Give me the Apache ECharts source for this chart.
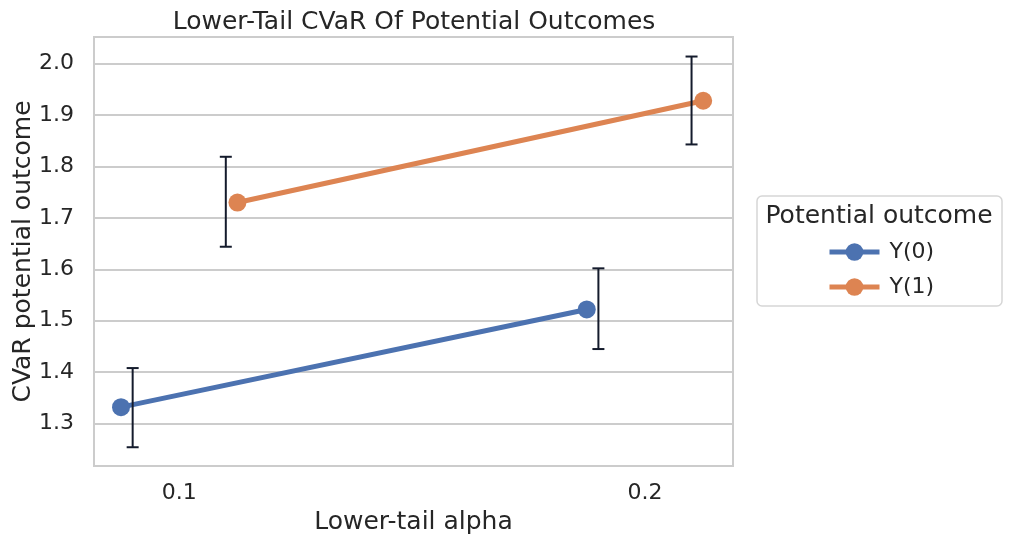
<!DOCTYPE html>
<html>
<head>
<meta charset="utf-8">
<script src="https://cdn.jsdelivr.net/npm/echarts@6/dist/echarts.min.js"></script>
<style>
  html, body { margin: 0; padding: 0; background: #fff; }
  #chart { width: 1012px; height: 546px; }
</style>
</head>
<body>
<div id="chart"></div>
<script>
// categories on the x axis (lower-tail alpha)
var alphaLabels = ['0.1', '0.2'];
var seriesNames = ['Y(0)', 'Y(1)'];

// CVaR point estimates
var y0Mean = [1.332, 1.522];
var y1Mean = [1.730, 1.928];

// error bar bounds
var y0Low = [1.254, 1.445];
var y0High = [1.408, 1.602];
var y1Low = [1.644, 1.843];
var y1High = [1.819, 2.014];

// y tick labels
var yTicks = [1.3, 1.4, 1.5, 1.6, 1.7, 1.8, 1.9, 2.0];

var pointDodge = [-0.125, 0.125];
var barDodge = [-0.1, 0.1];

var colors = ['#4c72b0', '#dd8452'];
var textColor = '#262626';
var gridColor = '#cccccc';
var errColor = '#141b2c';
var font = 'DejaVu Sans';

function pts(means, dodge) {
    var out = [];
    for (var i = 0; i < means.length; i++) {
        out.push([i + dodge, means[i]]);
    }
    return out;
}
function bars(low, high, dodge) {
    var out = [];
    for (var i = 0; i < low.length; i++) {
        out.push([i + dodge, low[i], high[i]]);
    }
    return out;
}

function renderErr(params, api) {
    var x = api.value(0);
    var lo = api.coord([x, api.value(1)]);
    var hi = api.coord([x, api.value(2)]);
    var cap = 6;
    var st = { stroke: errColor, lineWidth: 2 };
    return {
        type: 'group',
        children: [
            { type: 'line', shape: { x1: lo[0], y1: lo[1], x2: hi[0], y2: hi[1] }, style: st },
            { type: 'line', shape: { x1: lo[0] - cap, y1: lo[1], x2: lo[0] + cap, y2: lo[1] }, style: st },
            { type: 'line', shape: { x1: hi[0] - cap, y1: hi[1], x2: hi[0] + cap, y2: hi[1] }, style: st }
        ]
    };
}

var chart = echarts.init(document.getElementById('chart'));

var option = {
    backgroundColor: '#fff',
    animation: false,
    title: {
        text: 'Lower-Tail CVaR Of Potential Outcomes',
        left: 409,
        textAlign: 'center',
        top: 5,
        textStyle: { fontFamily: font, fontSize: 25, fontWeight: 'normal', color: textColor }
    },
    grid: {
        left: 94,
        right: 279,
        top: 37,
        bottom: 80,
        outerBoundsMode: 'none',
        containLabel: false,
        show: true,
        borderColor: gridColor,
        borderWidth: 2,
        backgroundColor: 'transparent'
    },
    legend: {
        orient: 'vertical',
        left: 822,
        top: 236,
        itemWidth: 50,
        itemHeight: 22,
        itemGap: 13,
        data: seriesNames,
        lineStyle: { width: 5 },
        textStyle: { fontFamily: font, fontSize: 22, color: textColor, padding: [0, 0, 0, 5] }
    },
    graphic: [
        {
            type: 'rect',
            shape: { x: 757, y: 196, width: 245, height: 110, r: 5 },
            style: { fill: '#fff', stroke: '#d6d6d6', lineWidth: 1.5 },
            z: -1
        },
        {
            type: 'text',
            x: 879,
            y: 216,
            style: {
                text: 'Potential outcome',
                fontFamily: font,
                fontSize: 25,
                fill: textColor,
                align: 'center',
                verticalAlign: 'middle'
            }
        }
    ],
    xAxis: {
        type: 'value',
        min: -0.183,
        max: 1.189,
        name: 'Lower-tail alpha',
        nameLocation: 'middle',
        nameGap: 44,
        nameMoveOverlap: false,
        nameTextStyle: { fontFamily: font, fontSize: 25, color: textColor },
        axisLine: { show: false },
        axisTick: { show: false, customValues: [0, 1] },
        splitLine: { show: false },
        axisLabel: {
            customValues: [0, 1],
            margin: 16,
            fontFamily: font,
            fontSize: 22,
            color: textColor,
            formatter: function (v) { return alphaLabels[Math.round(v)]; }
        }
    },
    yAxis: {
        type: 'value',
        min: 1.2175,
        max: 2.052,
        name: 'CVaR potential outcome',
        nameLocation: 'middle',
        nameGap: 58,
        nameMoveOverlap: false,
        nameTextStyle: { fontFamily: font, fontSize: 25, color: textColor },
        axisLine: { show: false },
        axisTick: { show: false, customValues: yTicks },
        splitLine: { show: true, lineStyle: { color: gridColor, width: 2 } },
        axisLabel: {
            customValues: yTicks,
            margin: 20,
            fontFamily: font,
            fontSize: 22,
            color: textColor,
            formatter: function (v) { return v.toFixed(1); }
        }
    },
    series: [
        {
            name: seriesNames[0],
            type: 'line',
            data: pts(y0Mean, pointDodge[0]),
            symbol: 'circle',
            symbolSize: 18,
            showAllSymbol: true,
            itemStyle: { color: colors[0] },
            lineStyle: { color: colors[0], width: 5 },
            z: 3
        },
        {
            name: seriesNames[1],
            type: 'line',
            data: pts(y1Mean, pointDodge[1]),
            symbol: 'circle',
            symbolSize: 18,
            showAllSymbol: true,
            itemStyle: { color: colors[1] },
            lineStyle: { color: colors[1], width: 5 },
            z: 3
        },
        {
            type: 'custom',
            renderItem: renderErr,
            data: bars(y0Low, y0High, barDodge[0]),
            z: 5
        },
        {
            type: 'custom',
            renderItem: renderErr,
            data: bars(y1Low, y1High, barDodge[1]),
            z: 5
        }
    ]
};

chart.setOption(option);
</script>
</body>
</html>
